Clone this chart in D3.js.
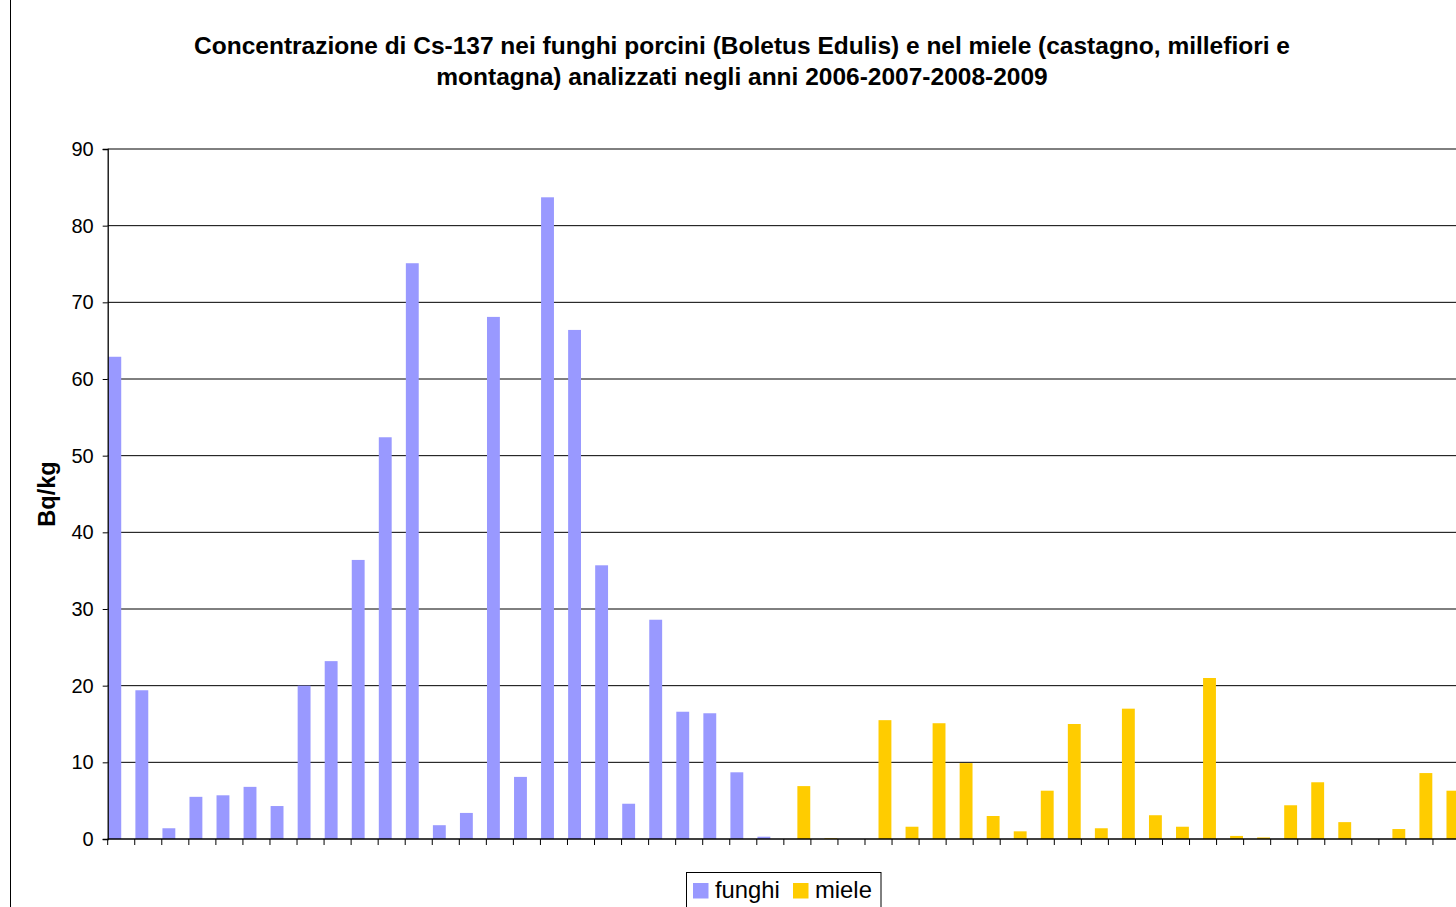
<!DOCTYPE html>
<html>
<head>
<meta charset="utf-8">
<script src="https://cdn.jsdelivr.net/npm/d3@7"></script>
<style>
  html, body { margin: 0; padding: 0; background: #fff; overflow: hidden; }
  svg { display: block; font-family: "Liberation Sans", Arial, sans-serif; }
</style>
</head>
<body>
<svg id="chart" width="1456" height="907"></svg>
<script>
// Cs-137 concentration (Bq/kg), one sample per category
const samples = d3.range(1, 51);
const funghi = [62.9, 19.4, 1.4, 5.5, 5.7, 6.8, 4.3, 20.0, 23.2, 36.4,
                52.4, 75.1, 1.8, 3.4, 68.1, 8.1, 83.7, 66.4, 35.7, 4.6,
                28.6, 16.6, 16.4, 8.7, 0.3,
                0, 0, 0, 0, 0, 0, 0, 0, 0, 0,
                0, 0, 0, 0, 0, 0, 0, 0, 0, 0,
                0, 0, 0, 0, 0];
const miele  = [0, 0, 0, 0, 0, 0, 0, 0, 0, 0,
                0, 0, 0, 0, 0, 0, 0, 0, 0, 0,
                0, 0, 0, 0, 0,
                6.9, 0.1, 0, 15.5, 1.6, 15.1, 9.9, 3.0, 1.0, 6.3,
                15.0, 1.4, 17.0, 3.1, 1.6, 21.0, 0.4, 0.2, 4.4, 7.4,
                2.2, 0, 1.3, 8.6, 6.3];
const seriesNames = ["funghi", "miele"];
const seriesColors = ["#9999FF", "#FFCC00"];
const yTicks = [0, 10, 20, 30, 40, 50, 60, 70, 80, 90];
const titleLines = [
  "Concentrazione di Cs-137 nei funghi porcini (Boletus Edulis) e nel miele (castagno, millefiori e",
  "montagna) analizzati negli anni 2006-2007-2008-2009"
];
const yLabel = "Bq/kg";

const svg = d3.select("#chart");

// chart area frame
svg.append("rect")
  .attr("x", 10.5).attr("y", -2)
  .attr("width", 1464).attr("height", 1000)
  .attr("fill", "#fff").attr("stroke", "#000").attr("stroke-width", 1);

const plot = { left: 107.7, right: 1460, top: 149, bottom: 839 };

const x = d3.scaleBand().domain(samples).range([plot.left, plot.right]).paddingInner(0).paddingOuter(0);
const xs = d3.scaleBand().domain(seriesNames).range([0, x.bandwidth()]).paddingInner(0).paddingOuter(0.05);
const y = d3.scaleLinear().domain([0, 90]).range([plot.bottom, plot.top]);

// horizontal gridlines
svg.append("g").selectAll("line")
  .data(yTicks.filter(d => d > 0))
  .join("line")
  .attr("x1", plot.left).attr("x2", plot.right)
  .attr("y1", d => y(d)).attr("y2", d => y(d))
  .attr("stroke", "#000").attr("stroke-width", 1);

// bars
const rows = samples.map((s, i) => ({ s, values: [funghi[i], miele[i]] }));
const groups = svg.append("g").selectAll("g")
  .data(rows).join("g")
  .attr("transform", d => `translate(${x(d.s)},0)`);
groups.selectAll("rect")
  .data(d => d.values.map((v, k) => ({ v, k })).filter(e => e.v > 0))
  .join("rect")
  .attr("x", e => xs(seriesNames[e.k]))
  .attr("width", xs.bandwidth())
  .attr("y", e => y(e.v))
  .attr("height", e => y(0) - y(e.v))
  .attr("fill", e => seriesColors[e.k]);

// y axis
const yAxis = svg.append("g")
  .attr("transform", `translate(${plot.left},0)`)
  .call(d3.axisLeft(y).tickValues(yTicks).tickSize(5).tickPadding(9));
yAxis.select(".domain").attr("stroke", "#000").attr("stroke-width", 1.3);
yAxis.selectAll(".tick line").attr("stroke", "#000");
yAxis.selectAll(".tick text")
  .attr("font-size", 20).attr("font-family", "Liberation Sans, Arial, sans-serif").attr("fill", "#000");

// x axis: ticks at category boundaries, no labels
const xAxis = svg.append("g");
xAxis.append("line")
  .attr("x1", plot.left).attr("x2", plot.right)
  .attr("y1", y(0)).attr("y2", y(0))
  .attr("stroke", "#000").attr("stroke-width", 1.3);
xAxis.selectAll("line.tick")
  .data(samples.concat([samples.length + 1]))
  .join("line").attr("class", "tick")
  .attr("x1", (d, i) => plot.left + i * x.step())
  .attr("x2", (d, i) => plot.left + i * x.step())
  .attr("y1", y(0)).attr("y2", y(0) + 6)
  .attr("stroke", "#000").attr("stroke-width", 1);

// title
svg.append("g").selectAll("text")
  .data(titleLines).join("text")
  .attr("x", 742).attr("y", (d, i) => 54 + i * 31)
  .attr("text-anchor", "middle")
  .attr("font-weight", "bold").attr("font-size", 24.5)
  .text(d => d);

// y axis title
svg.append("text")
  .attr("transform", "translate(55,494) rotate(-90)")
  .attr("text-anchor", "middle")
  .attr("font-weight", "bold").attr("font-size", 23.6)
  .text(yLabel);

// legend
const legend = svg.append("g");
legend.append("rect")
  .attr("x", 686.5).attr("y", 872.5).attr("width", 194.5).attr("height", 60)
  .attr("fill", "#fff").attr("stroke", "#000").attr("stroke-width", 1);
const swatchX = [693, 793];
const items = legend.selectAll("g.item")
  .data(seriesNames).join("g").attr("class", "item")
  .attr("transform", (d, i) => `translate(${swatchX[i]},0)`);
items.append("rect")
  .attr("x", 0).attr("y", 883).attr("width", 15.5).attr("height", 15.5)
  .attr("fill", (d, i) => seriesColors[i]);
items.append("text")
  .attr("x", 22).attr("y", 898)
  .attr("font-size", 23.8)
  .text(d => d);
</script>
</body>
</html>
